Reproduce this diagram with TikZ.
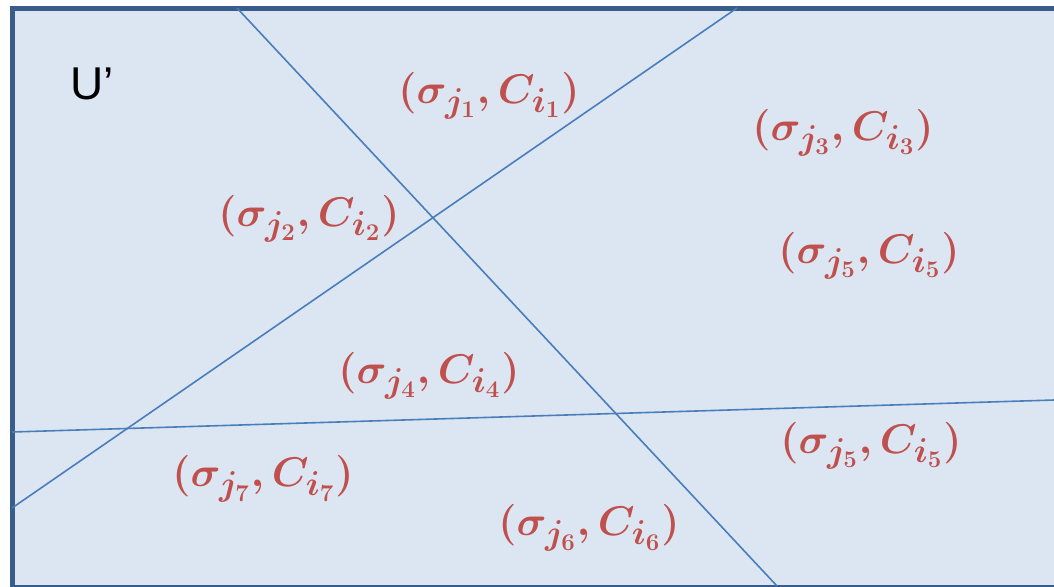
\documentclass[tikz,border=0pt]{standalone}
\usepackage{amsmath,amssymb}
\usepackage{fontspec}
\newfontfamily\labelsans{Liberation Sans}
\usepackage{tikz}
\usetikzlibrary{positioning}
\DeclareMathSizes{22}{22}{16.5}{13}
\definecolor{setfill}{HTML}{DCE6F2}
\definecolor{setborder}{HTML}{385D8A}
\definecolor{cutline}{HTML}{4A7EBB}
\definecolor{pairred}{HTML}{C0504D}
\tikzset{
  part/universe/.style={draw=setborder, fill=setfill, line width=2.5pt},
  part/cut/.style={draw=cutline, line width=0.8pt},
  part/pair/.style={text=pairred, inner sep=0pt, font=\fontsize{22}{26}\selectfont\boldmath},
  part/name/.style={inner sep=0pt, font=\labelsans\fontsize{23}{26}\selectfont}
}
\newcommand{\cellpair}[2]{$(\sigma_{j_{#1}},C_{i_{#2}})$}

\begin{document}
\begin{tikzpicture}[x=0.5pt, y=-0.5pt]
  \useasboundingbox (0,0) rectangle (1054,586);
  \clip (0,0) rectangle (1054,586);
  \draw[part/universe] (12,8) rectangle (1080,587);

  % end points of the three cuts
  \coordinate (cutA1) at (237,8);
  \coordinate (cutA2) at (777,586);
  \coordinate (cutB1) at (737,8);
  \coordinate (cutB2) at (12,508);
  \coordinate (cutC1) at (12,432);
  \coordinate (cutC2) at (1054,400);
  \draw[part/cut] (cutA1) -- (cutA2);
  \draw[part/cut] (cutB1) -- (cutB2);
  \draw[part/cut] (cutC1) -- (cutC2);

  \node[part/name] (uprime) at (92,84) {U’};

  \node[part/pair] (p1) at (489,96) {\cellpair{1}{1}};
  \node[part/pair] (p3) at (843,133) {\cellpair{3}{3}};
  \node[part/pair] (p2) at (309,219) {\cellpair{2}{2}};
  \node[part/pair] (p5a) at (869,256) {\cellpair{5}{5}};
  \node[part/pair] (p4) at (429,376) {\cellpair{4}{4}};
  \node[part/pair] (p5b) at (871,446) {\cellpair{5}{5}};
  \node[part/pair] (p7) at (263,479) {\cellpair{7}{7}};
  \node[part/pair] (p6) at (589,528) {\cellpair{6}{6}};
\end{tikzpicture}
\end{document}
